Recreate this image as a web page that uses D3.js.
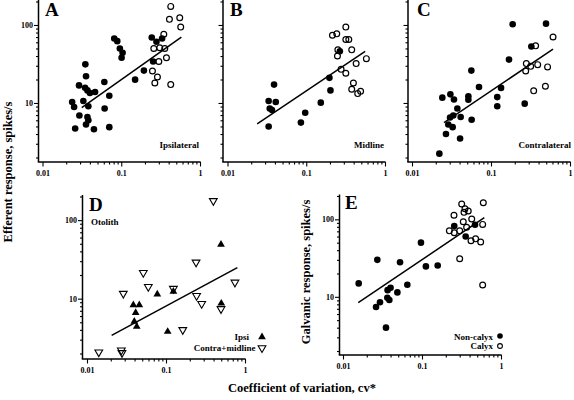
<!DOCTYPE html>
<html><head><meta charset="utf-8">
<script src="https://cdn.jsdelivr.net/npm/d3@7"></script>
<style>
body{margin:0;background:#fff}
svg{display:block}
text{font-family:"Liberation Serif","Times New Roman",serif;font-weight:bold;fill:#000}
</style>
</head><body>
<svg id="chart" width="574" height="400"></svg>
<script>
// ---------- tick labels ----------
const xTickValues = [0.01,0.02,0.03,0.04,0.05,0.06,0.07,0.08,0.09,0.1,0.2,0.3,0.4,0.5,0.6,0.7,0.8,0.9,1];
const xMajorTicks = [0.01,0.1,1];
const xTickLabels = ["0.01","0.1","1"];
const yTickValues = [2,3,4,5,6,7,8,9,10,20,30,40,50,60,70,80,90,100,200];
const yMajorTicks = [10,100];
const yTickLabels = ["10","100"];

// ---------- A: Ipsilateral ----------
const ipsiFilledCv   = [0.035,0.0357,0.0291,0.0347,0.0372,0.0465,0.040,0.0238,0.0252,0.033,0.0382,0.0294,0.0372,0.0382,0.0357,0.026,0.045,0.0705,0.061,0.0705,0.0615,0.0815,0.089,0.096,0.104,0.101,0.150,0.194,0.244,0.28,0.33,0.254];
const ipsiFilledRate = [31.3,22,16.8,15.7,14.5,13.8,13.4,10.3,8.9,10.6,9.1,6.9,6.6,6.0,5.3,4.7,4.6,4.9,18.6,12.4,8.5,67,62,50,44,38,19.9,26,69,61,67,34];
const ipsiOpenCv     = [0.425,0.553,0.409,0.569,0.347,0.259,0.308,0.357,0.375,0.30,0.249,0.288,0.267,0.425];
const ipsiOpenRate   = [173,124,118,94,76,50,51,50,38,34,25.7,21.5,18,17.2];
const ipsiFitCv      = [0.0315,0.58];
const ipsiFitRate    = [8.7,70];

// ---------- B: Midline ----------
const midFilledCv    = [0.0333,0.0333,0.0344,0.0367,0.041,0.039,0.0855,0.097,0.153,0.197,0.203,0.267];
const midFilledRate  = [5.0,10.6,8.5,8.1,10.3,17.2,5.6,7.5,10.1,21,14.5,46];
const midOpenCv      = [0.318,0.215,0.244,0.318,0.347,0.252,0.378,0.249,0.43,0.58,0.277,0.318,0.397,0.378,0.45,0.49];
const midOpenRate    = [94,74,77,65,65,48,48,40,32,37,27,24,18,15,13.2,14.1];
const midFitCv       = [0.0238,0.56];
const midFitRate     = [5.4,46];

// ---------- C: Contralateral ----------
const contraFilledCv   = [0.0222,0.0242,0.0306,0.034,0.0375,0.0303,0.0333,0.0288,0.0327,0.0269,0.0406,0.0413,0.0569,0.0517,0.0517,0.0564,0.0705,0.120,0.120,0.134,0.169,0.188,0.267,0.324,0.497];
const contraFilledRate = [2.24,11.7,12.9,11.1,8.5,6.5,6.9,5.3,4.9,4.0,3.5,6.6,6.1,12.2,11,26,16,11.9,9.1,15.6,36,102,9.8,53,104];
const contraOpenCv     = [0.61,0.367,0.28,0.275,0.318,0.39,0.52,0.347,0.488];
const contraOpenRate   = [70,54,32,25.7,29.5,31,29,14.3,16.4];
const contraFitCv      = [0.0254,0.61];
const contraFitRate    = [5.6,49];

// ---------- D: Otolith ----------
const otoIpsiCv     = [0.0386,0.0459,0.0413,0.0397,0.0426,0.0776,0.124,0.105,0.497,0.501];
const otoIpsiRate   = [8.3,8.3,6.6,5.1,4.4,11.4,12.3,3.8,49,8.7];
const otoContraCv   = [0.397,0.0288,0.0516,0.0597,0.124,0.24,0.244,0.283,0.163,0.746,0.497,0.0141,0.0272,0.0277];
const otoContraRate = [176,11.6,21.4,14.2,13.4,29,10.9,8.6,4.0,16.1,7.4,2.08,2.2,2.04];
const otoFitCv      = [0.0205,0.80];
const otoFitRate    = [3.4,24.8];

// ---------- E: Galvanic ----------
const galvNonCalyxCv   = [0.0158,0.0272,0.0262,0.0294,0.035,0.0367,0.040,0.0364,0.0386,0.0488,0.0527,0.0652,0.097,0.112,0.158,0.256,0.357,0.469];
const galvNonCalyxRate = [14.9,30,7.4,8.5,4.0,12.2,13.1,9.7,9.1,11.4,28,14.3,50,24.7,25.4,82,60,85];
const galvCalyxCv      = [0.318,0.597,0.254,0.34,0.385,0.35,0.333,0.426,0.586,0.222,0.256,0.30,0.367,0.417,0.477,0.553,0.30,0.586];
const galvCalyxRate    = [158,164,113,123,128,137,93,101,86,71,67,71,79,53,56,51,31,14.2];
const galvFitCv        = [0.0156,0.615];
const galvFitRate      = [8.4,105];

const svg = d3.select("#chart");

function zip(a,b){ return a.map((v,i)=>[v,b[i]]); }

function drawPanel(p){
  const x = d3.scaleLog().domain([0.01,1]).range([p.x01,p.x1]);
  const y = d3.scaleLog().domain([2,200]).range([p.y2,p.y200]);
  const g = svg.append("g");

  // y axis
  const yAxis = d3.axisLeft(y).tickValues(yTickValues).tickSize(4).tickPadding(1.5)
    .tickFormat(d => (p.yLabels && yMajorTicks.includes(d)) ? yTickLabels[yMajorTicks.indexOf(d)] : "");
  const ya = g.append("g").attr("transform",`translate(${p.axX},0)`).call(yAxis);
  ya.select(".domain").remove();
  ya.selectAll(".tick line").attr("stroke","#000").attr("stroke-width",1.1)
    .attr("x2", d => yMajorTicks.includes(d) ? -4.5 : -2.5);
  ya.selectAll(".tick text").style("font-size","8px").style("font-family",'"Liberation Serif",serif').style("font-weight","bold");
  g.append("line").attr("x1",p.axX).attr("x2",p.axX).attr("y1",y(200)-1.5).attr("y2",p.axY)
    .attr("stroke","#000").attr("stroke-width",1.5);

  // x axis
  const xAxis = d3.axisBottom(x).tickValues(xTickValues).tickSize(4).tickPadding(4.5)
    .tickFormat(d => xMajorTicks.includes(d) ? xTickLabels[xMajorTicks.indexOf(d)] : "");
  const xa = g.append("g").attr("transform",`translate(0,${p.axY})`).call(xAxis);
  xa.select(".domain").remove();
  xa.selectAll(".tick line").attr("stroke","#000").attr("stroke-width",1.1)
    .attr("y2", d => xMajorTicks.includes(d) ? 4.5 : 2.5);
  xa.selectAll(".tick text").style("font-size","8px").style("font-family",'"Liberation Serif",serif').style("font-weight","bold");
  g.append("line").attr("x1",p.axX-0.75).attr("x2",x(1)+0.6).attr("y1",p.axY).attr("y2",p.axY)
    .attr("stroke","#000").attr("stroke-width",1.5);

  // fit line
  g.append("path").datum(zip(p.fitCv,p.fitRate))
    .attr("d", d3.line().x(d=>x(d[0])).y(d=>y(d[1])))
    .attr("fill","none").attr("stroke","#000").attr("stroke-width",1.5);

  // markers
  if (p.marker === "circle"){
    g.selectAll(null).data(zip(p.filledCv,p.filledRate)).join("circle")
      .attr("cx",d=>x(d[0])).attr("cy",d=>y(d[1])).attr("r",3.3).attr("fill","#000");
    g.selectAll(null).data(zip(p.openCv,p.openRate)).join("circle")
      .attr("cx",d=>x(d[0])).attr("cy",d=>y(d[1])).attr("r",2.9)
      .attr("fill","none").attr("stroke","#000").attr("stroke-width",1.2);
  } else {
    const tri = d3.symbol().type(d3.symbolTriangle).size(26);
    g.selectAll(null).data(zip(p.filledCv,p.filledRate)).join("path")
      .attr("d",tri).attr("transform",d=>`translate(${x(d[0])},${y(d[1])})`).attr("fill","#000");
    g.selectAll(null).data(zip(p.openCv,p.openRate)).join("path")
      .attr("d",tri).attr("transform",d=>`translate(${x(d[0])},${y(d[1])}) rotate(180)`)
      .attr("fill","none").attr("stroke","#000").attr("stroke-width",1.1);
  }

  // panel letter
  g.append("text").attr("x",p.letterX).attr("y",p.letterY).style("font-size","19px").text(p.letter);
  if (p.note){
    g.append("text").attr("x",p.noteX).attr("y",p.noteY).attr("text-anchor",p.noteAnchor)
      .style("font-size","9px").text(p.note);
  }
  return g;
}

drawPanel({letter:"A",letterX:45,letterY:16,note:"Ipsilateral",noteX:199,noteY:148,noteAnchor:"end",
  axX:38.5,x01:42.5,x1:200,y200:1.5,y2:157.5,axY:162,yLabels:true,marker:"circle",
  filledCv:ipsiFilledCv,filledRate:ipsiFilledRate,openCv:ipsiOpenCv,openRate:ipsiOpenRate,fitCv:ipsiFitCv,fitRate:ipsiFitRate});
drawPanel({letter:"B",letterX:230,letterY:16,note:"Midline",noteX:384,noteY:148,noteAnchor:"end",
  axX:223,x01:227.5,x1:385,y200:1.5,y2:157.5,axY:162,yLabels:false,marker:"circle",
  filledCv:midFilledCv,filledRate:midFilledRate,openCv:midOpenCv,openRate:midOpenRate,fitCv:midFitCv,fitRate:midFitRate});
drawPanel({letter:"C",letterX:417,letterY:16,note:"Contralateral",noteX:571,noteY:148,noteAnchor:"end",
  axX:408,x01:412,x1:570,y200:1.5,y2:157.5,axY:162,yLabels:false,marker:"circle",
  filledCv:contraFilledCv,filledRate:contraFilledRate,openCv:contraOpenCv,openRate:contraOpenRate,fitCv:contraFitCv,fitRate:contraFitRate});
const gD = drawPanel({letter:"D",letterX:89,letterY:211,note:"Otolith",noteX:91,noteY:225,noteAnchor:"start",
  axX:82.5,x01:87,x1:245,y200:196.5,y2:353.5,axY:359,yLabels:true,marker:"triangle",
  filledCv:otoIpsiCv,filledRate:otoIpsiRate,openCv:otoContraCv,openRate:otoContraRate,fitCv:otoFitCv,fitRate:otoFitRate});
const gE = drawPanel({letter:"E",letterX:345,letterY:209,note:null,
  axX:339.5,x01:343,x1:501,y200:196,y2:351,axY:355,yLabels:true,marker:"circle",
  filledCv:galvNonCalyxCv,filledRate:galvNonCalyxRate,openCv:galvCalyxCv,openRate:galvCalyxRate,fitCv:galvFitCv,fitRate:galvFitRate});

// legends
const triL = d3.symbol().type(d3.symbolTriangle).size(26);
gD.append("text").attr("x",249).attr("y",340).attr("text-anchor","end").style("font-size","9px").text("Ipsi");
gD.append("path").attr("d",triL).attr("transform","translate(262,337)").attr("fill","#000");
gD.append("text").attr("x",255.5).attr("y",350.5).attr("text-anchor","end").style("font-size","9px").text("Contra+midline");
gD.append("path").attr("d",triL).attr("transform","translate(262,348) rotate(180)").attr("fill","none").attr("stroke","#000").attr("stroke-width",1.1);

gE.append("text").attr("x",493).attr("y",339.5).attr("text-anchor","end").style("font-size","9px").text("Non-calyx");
gE.append("circle").attr("cx",500).attr("cy",336).attr("r",2.8).attr("fill","#000");
gE.append("text").attr("x",493).attr("y",349).attr("text-anchor","end").style("font-size","9px").text("Calyx");
gE.append("circle").attr("cx",500).attr("cy",346).attr("r",2.4).attr("fill","none").attr("stroke","#000").attr("stroke-width",1.1);

// axis titles
svg.append("text").attr("transform","translate(12,172) rotate(-90)").attr("text-anchor","middle")
  .style("font-size","12.5px").text("Efferent response, spikes/s");
svg.append("text").attr("transform","translate(310,272) rotate(-90)").attr("text-anchor","middle")
  .style("font-size","12.5px").text("Galvanic response, spikes/s");
svg.append("text").attr("x",302).attr("y",392).attr("text-anchor","middle")
  .style("font-size","12.5px").text("Coefficient of variation, cv*");
</script>
</body></html>
